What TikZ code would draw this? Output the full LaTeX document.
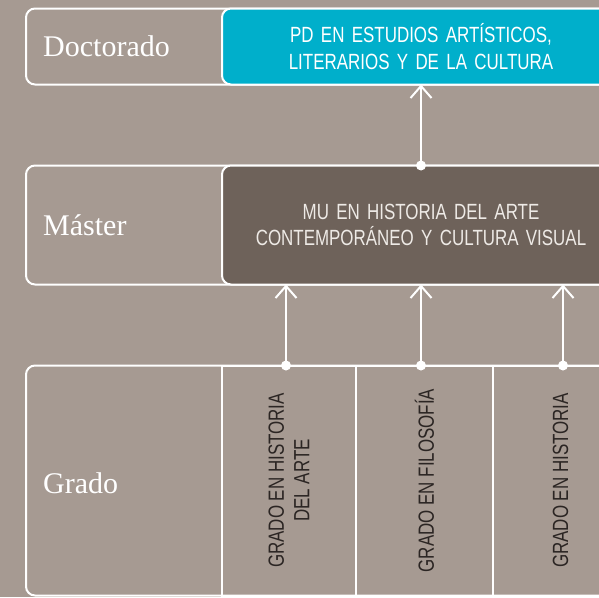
\documentclass[tikz,border=0pt]{standalone}
\usepackage{fontspec}
\usepackage{xcolor}
\usetikzlibrary{arrows.meta,positioning}

\newfontfamily\condfont[FakeStretch=0.77,WordSpace=0.75]{Liberation Sans}
\newfontfamily\degreefont[FakeStretch=0.77]{Liberation Sans}
\newfontfamily\labelfont{Liberation Serif}
\definecolor{bgtaupe}{HTML}{A69A92}
\definecolor{pdcyan}{HTML}{00AFCB}
\definecolor{mudark}{HTML}{6E625A}
\definecolor{gradotext}{HTML}{2B2523}
\definecolor{mutext}{HTML}{EEEAE6}

\begin{document}
\begin{tikzpicture}[x=1pt,y=-1pt,
        level/.style={draw=white, line width=2pt, rounded corners=9pt, inner sep=0pt, outer sep=0pt},
        program/.style={level, text width=390pt, align=center, font=\condfont\fontsize{22}{26.5}\selectfont},
        column/.style={draw=white, line width=2pt, inner sep=0pt, outer sep=0pt, minimum height=230pt},
        degree/.style={rotate=90, align=center, text=gradotext, inner sep=0pt, font=\degreefont\fontsize{22}{25.5}\selectfont},
        levelname/.style={anchor=base west, text=white, inner sep=0pt, font=\labelfont\fontsize{30}{32}\selectfont},
        link/.style={white, line width=2pt, -{Straight Barb[length=12pt,width=21pt]}}]
        \clip (0,0) rectangle (599,597);
        \fill [bgtaupe] (0,0) rectangle (599,597);
        % levels
        \node [level, minimum width=594pt, minimum height=76pt] (doc) at (323,46.5) {};
        \node [level, minimum width=594pt, minimum height=119pt] (mas) at (323,225) {};
        \node [level, minimum width=594pt, minimum height=230pt] (gra) at (323,480.5) {};
        \node [levelname] (doctorado) at (43,56.7) {Doctorado};
        \node [levelname] (master) at (43,235) {Máster};
        \node [levelname] (grado) at (43,493) {Grado};
        % programs
        \node [program, fill=pdcyan, text=white, minimum width=398pt, minimum height=76pt] (pd) at (421,46.5)
            {PD EN ESTUDIOS ARTÍSTICOS,\\LITERARIOS Y DE LA CULTURA};
        \node [program, fill=mudark, text=mutext, minimum width=398pt, minimum height=119pt] (mu) at (421,225)
            {MU EN HISTORIA DEL ARTE\\CONTEMPORÁNEO Y CULTURA VISUAL};
        \node [column, minimum width=134pt] (g1) at (289,480.5) {};
        \node [column, minimum width=137pt] (g2) at (424.5,480.5) {};
        \node [column, minimum width=135pt] (g3) at (560.5,480.5) {};
        \node [degree] (g1text) at (g1) {GRADO EN HISTORIA\\DEL ARTE};
        \node [degree] (g2text) at (g2) {GRADO EN FILOSOFÍA};
        \node [degree] (g3text) at (g3) {GRADO EN HISTORIA};
        % links
        \draw [link] (mu.north) -- (pd.south);
        \fill [white] (mu.north) circle (5pt);
        \foreach \c/\dx in {g1/-3, g2/-3.5, g3/2.5}{
            \draw [link] ([xshift=\dx pt]\c.north) -- ([xshift=\dx pt]\c.north |- mu.south);
            \fill [white] ([xshift=\dx pt]\c.north) circle (5pt);
        }
\end{tikzpicture}
\end{document}
